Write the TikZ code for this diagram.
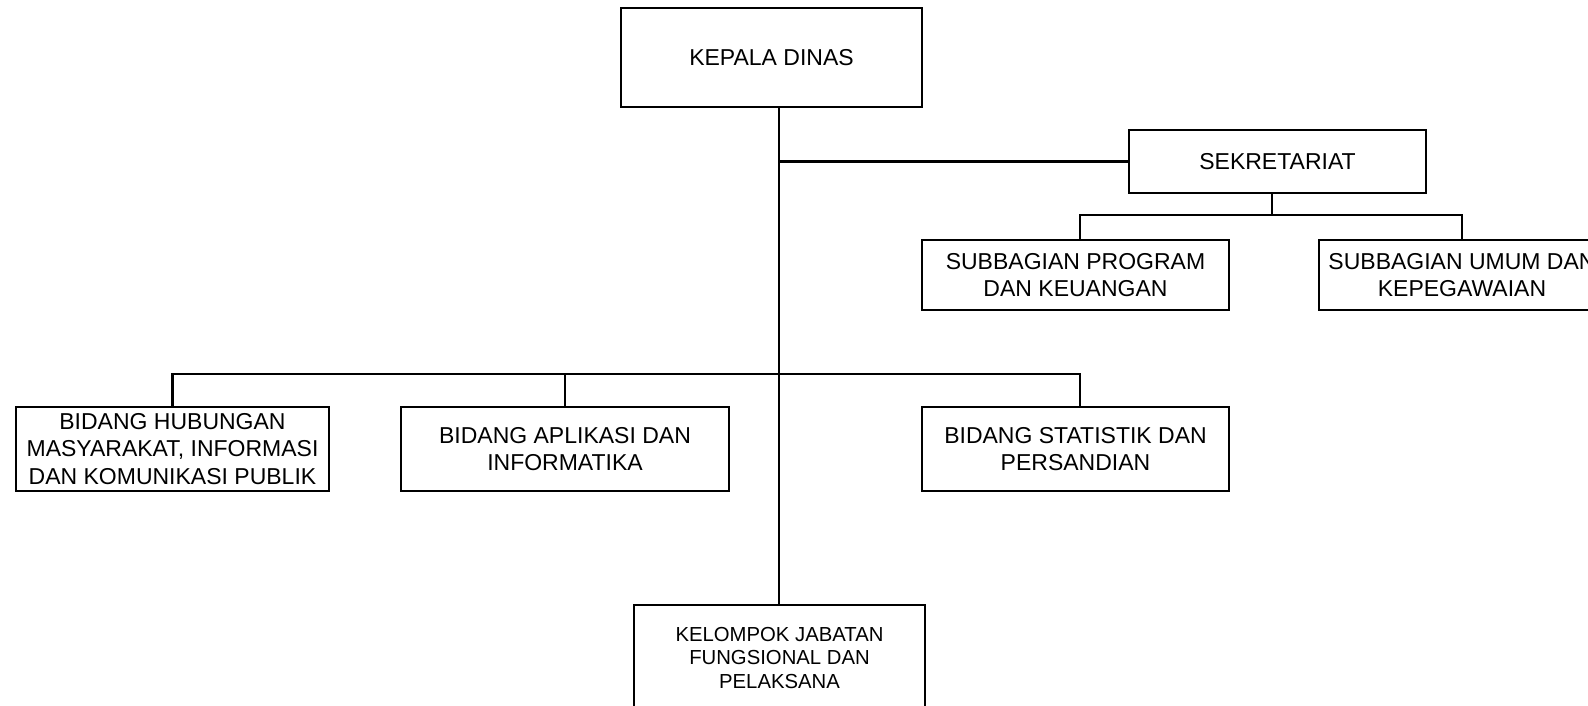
\documentclass[tikz,border=0pt]{standalone}
\usepackage{fontspec}
\setmainfont{Liberation Sans}
\begin{document}
\begin{tikzpicture}[x=1pt,y=-1pt,
  box/.style={draw,line width=2.8pt,inner sep=0pt,align=center,font=\fontsize{23}{27.3}\selectfont},
  small/.style={font=\fontsize{20.3}{23.5}\selectfont},
  conn/.style={line width=2.8pt}]
\useasboundingbox (0,0) rectangle (1588,706);
\clip (0,0) rectangle (1588,706);
\node[box,minimum width=301pt,minimum height=99pt] (kepala) at (771.5,57.5) {KEPALA DINAS};
\node[box,minimum width=297pt,minimum height=63pt] (sek) at (1277.5,161.5) {SEKRETARIAT};
\node[box,minimum width=307pt,minimum height=70pt] (spk) at (1075.5,275) {SUBBAGIAN PROGRAM\\DAN KEUANGAN};
\node[box,minimum width=286pt,minimum height=70pt] (sum) at (1462,275) {SUBBAGIAN UMUM DAN\\KEPEGAWAIAN};
\node[box,minimum width=313pt,minimum height=84pt] (bh) at (172.5,449) {BIDANG HUBUNGAN\\MASYARAKAT, INFORMASI\\DAN KOMUNIKASI PUBLIK};
\node[box,minimum width=328pt,minimum height=84pt] (ba) at (565,449) {BIDANG APLIKASI DAN\\INFORMATIKA};
\node[box,minimum width=307pt,minimum height=84pt] (bs) at (1075.5,449) {BIDANG STATISTIK DAN\\PERSANDIAN};
\node[box,small,minimum width=291pt,minimum height=106pt] (kel) at (779.5,658) {KELOMPOK JABATAN\\FUNGSIONAL DAN\\PELAKSANA};
\coordinate (trunk) at (779,0);
\coordinate (sx) at (1272,0);
\coordinate (rx) at (1080,0);
\coordinate (b1) at (0,374);
\coordinate (b2) at (0,215);
\draw[conn] (kepala.south -| trunk) -- (kel.north -| trunk);
\draw[conn] (sek.west -| trunk) -- (sek.west);
\draw[conn] (sek.south -| sx) -- (sx |- b2);
\draw[conn] (spk.north -| rx) -- (rx |- b2) -- (sum.north |- b2) -- (sum.north);
\draw[conn] (bh.north) -- (bh.north |- b1) -- (rx |- b1) -- (bs.north -| rx);
\draw[conn] (ba.north) -- (ba.north |- b1);
\end{tikzpicture}
\end{document}
